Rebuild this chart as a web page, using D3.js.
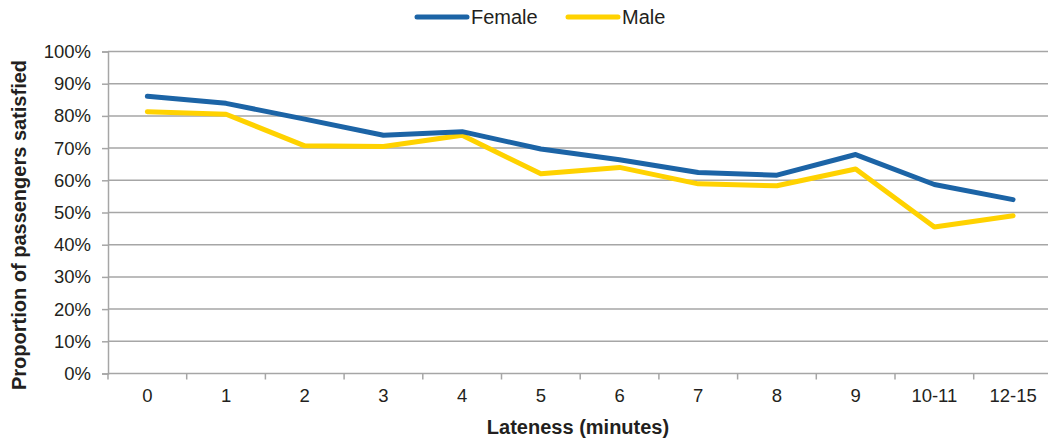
<!DOCTYPE html>
<html><head><meta charset="utf-8">
<script src="https://cdn.jsdelivr.net/npm/d3@7"></script>
<style>
body{margin:0;background:#fff;}
text{font-family:"Liberation Sans",Arial,Helvetica,sans-serif;fill:#231f20;}
</style></head>
<body><svg id="chart" width="1048" height="439"></svg>
<script>
const categories = ["0","1","2","3","4","5","6","7","8","9","10-11","12-15"];
const female = [86.1, 83.9, 79.0, 74.0, 75.1, 69.7, 66.4, 62.4, 61.6, 68.0, 58.7, 54.0];
const male   = [81.3, 80.5, 70.7, 70.5, 74.0, 62.0, 64.0, 58.9, 58.3, 63.5, 45.5, 49.0];
const yTicks = [0,10,20,30,40,50,60,70,80,90,100];
const seriesNames = ["Female","Male"];
const colors = ["#1c64a6","#ffd200"];

const svg = d3.select("#chart");
const plotLeft = 108, plotTop = 51.5, plotBottom = 373.5, band = 78.7;
const x = d3.scaleBand().domain(categories).range([plotLeft, plotLeft + band*categories.length]).padding(0);
const y = d3.scaleLinear().domain([0,100]).range([plotBottom, plotTop]);
const grid = "#a6a6a6";
const tickFont = 18.5, titleFont = 20;

// gridlines
svg.append("g").selectAll("line").data(yTicks.filter(d=>d>0)).join("line")
  .attr("x1", plotLeft).attr("x2", 1048).attr("y1", d=>y(d)).attr("y2", d=>y(d))
  .attr("stroke", grid).attr("stroke-width", 1.5);

// y axis
const yAxis = svg.append("g").attr("transform", `translate(${plotLeft},0)`)
  .call(d3.axisLeft(y).tickValues(yTicks).tickFormat(d=>d+"%").tickSize(6).tickPadding(11));
yAxis.select(".domain").attr("stroke", grid).attr("stroke-width", 1.5);
yAxis.selectAll(".tick line").attr("stroke", grid).attr("stroke-width", 1.5);
yAxis.selectAll("text").attr("font-size", tickFont).style("font-family","'Liberation Sans',Arial,sans-serif").attr("fill","#231f20");

// x axis
const xAxis = svg.append("g").attr("transform", `translate(0,${plotBottom})`)
  .call(d3.axisBottom(x).tickSize(0).tickPadding(15));
xAxis.select(".domain").remove();
xAxis.selectAll("text").attr("font-size", tickFont).style("font-family","'Liberation Sans',Arial,sans-serif").attr("fill","#231f20");
svg.append("line").attr("x1", plotLeft).attr("x2", 1048).attr("y1", plotBottom).attr("y2", plotBottom)
  .attr("stroke", grid).attr("stroke-width", 1.5);
svg.append("g").selectAll("line").data(categories).join("line")
  .attr("x1", d=>x(d)).attr("x2", d=>x(d)).attr("y1", plotBottom).attr("y2", plotBottom+6)
  .attr("stroke", grid).attr("stroke-width", 1.5);

// lines
const line = d3.line().x((d,i)=>x(categories[i]) + x.bandwidth()/2).y(d=>y(d));
[[male,1],[female,0]].forEach(([s, idx]) => {
  svg.append("path").datum(s).attr("d", line).attr("fill","none")
    .attr("stroke", colors[idx]).attr("stroke-width", 5).attr("stroke-linejoin","round").attr("stroke-linecap","round");
});

// legend
const legendX = [417, 568];
seriesNames.forEach((n,i)=>{
  svg.append("line").attr("x1", legendX[i]).attr("x2", legendX[i]+50).attr("y1", 17).attr("y2", 17)
    .attr("stroke", colors[i]).attr("stroke-width", 5).attr("stroke-linecap","round");
  svg.append("text").attr("x", legendX[i]+54).attr("y", 24).attr("font-size", titleFont).text(n);
});

// axis titles
svg.append("text").attr("x", 578).attr("y", 434).attr("text-anchor","middle")
  .attr("font-size", titleFont).attr("font-weight","bold").text("Lateness (minutes)");
svg.append("text").attr("transform","translate(26,225) rotate(-90)").attr("text-anchor","middle")
  .attr("font-size", titleFont).attr("font-weight","bold").text("Proportion of passengers satisfied");
</script></body></html>
